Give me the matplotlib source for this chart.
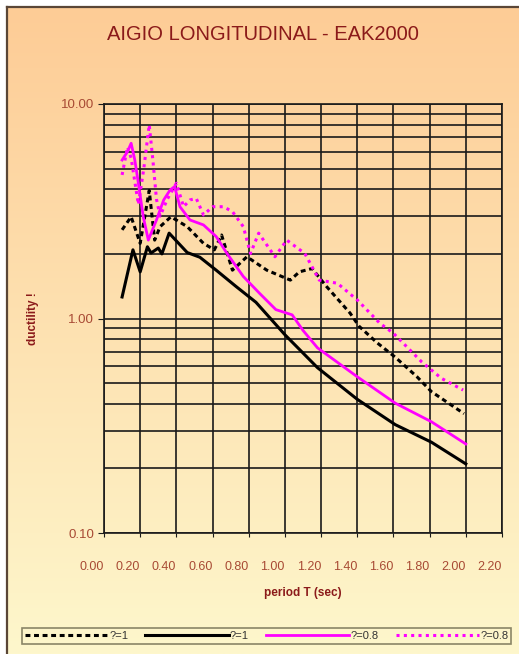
import matplotlib
matplotlib.use("Agg")
import matplotlib.pyplot as plt
import numpy as np
from matplotlib.lines import Line2D
from matplotlib.ticker import FixedLocator, LogLocator, NullFormatter

plt.rcParams['font.family'] = ['Liberation Sans', 'DejaVu Sans']

# period T (sec) and ductility for each curve
t_xi1_dash = [0.10, 0.15, 0.20, 0.25, 0.28, 0.31, 0.37, 0.46, 0.55, 0.61, 0.65, 0.71,
              0.79, 0.90, 1.03, 1.08, 1.15, 1.23, 1.36, 1.41, 1.51, 1.61, 1.73, 1.81, 1.99]
mu_xi1_dash = [2.59, 2.98, 2.24, 3.95, 2.32, 2.68, 2.98, 2.68, 2.24, 2.09, 2.45, 1.68,
               1.94, 1.68, 1.51, 1.65, 1.71, 1.41, 1.06, 0.92, 0.77, 0.66, 0.535, 0.456, 0.36]

t_xi1_solid = [0.10, 0.16, 0.20, 0.24, 0.26, 0.30, 0.32, 0.36, 0.40, 0.46, 0.53, 0.62,
               0.73, 0.84, 0.92, 1.00, 1.18, 1.40, 1.61, 1.81, 2.00]
mu_xi1_solid = [1.26, 2.09, 1.65, 2.16, 2.02, 2.13, 2.00, 2.50, 2.30, 2.03, 1.93, 1.68,
                1.41, 1.19, 1.00, 0.84, 0.59, 0.42, 0.32, 0.265, 0.21]

t_xi08_solid = [0.10, 0.13, 0.15, 0.17, 0.19, 0.217, 0.245, 0.29, 0.33, 0.365, 0.39, 0.42,
                0.475, 0.55, 0.62, 0.68, 0.77, 0.86, 0.95, 1.04, 1.10, 1.18, 1.40, 1.61,
                1.81, 2.00]
mu_xi08_solid = [5.48, 6.0, 6.56, 5.5, 4.27, 2.98, 2.32, 2.88, 3.57, 3.97, 4.12, 3.32,
                 2.88, 2.73, 2.41, 2.01, 1.57, 1.31, 1.10, 1.04, 0.88, 0.73, 0.535, 0.403,
                 0.33, 0.26]

t_xi08_dash = [0.10, 0.13, 0.15, 0.19, 0.22, 0.25, 0.27, 0.29, 0.31, 0.35, 0.40, 0.44,
               0.475, 0.51, 0.55, 0.60, 0.66, 0.71, 0.77, 0.81, 0.855, 0.945, 1.01, 1.11,
               1.19, 1.29, 1.40, 1.525, 1.60, 1.755, 1.865, 1.985]
mu_xi08_dash = [4.67, 6.3, 5.6, 3.4, 5.0, 8.0, 5.5, 3.6, 3.0, 3.6, 4.27, 3.32,
                3.57, 3.63, 3.04, 3.32, 3.32, 3.15, 2.68, 2.01, 2.50, 1.94, 2.32, 2.01,
                1.51, 1.46, 1.22, 0.95, 0.853, 0.629, 0.526, 0.464]

labels = ["?=1", "?=1", "?=0.8", "?=0.8"]
x_ticks = [0.0, 0.2, 0.4, 0.6, 0.8, 1.0, 1.2, 1.4, 1.6, 1.8, 2.0, 2.2]

W, H = 519, 654
fig = plt.figure(figsize=(W / 100, H / 100), dpi=100, facecolor="white")

# gradient background (orange top -> pale yellow bottom)
bg = fig.add_axes([7 / W, 0, 1 - 7 / W, (H - 7) / H], zorder=-10)
top_c = np.array([253, 204, 150]) / 255
bot_c = np.array([254, 247, 204]) / 255
f = np.linspace(0, 1, 256)[:, None]
grad = top_c[None, :] * (1 - f) + bot_c[None, :] * f
bg.imshow(grad[:, None, :], aspect="auto", extent=[0, 1, 0, 1])
bg.set_axis_off()

# frame lines top and left
fig.add_artist(Line2D([7 / W, 1], [(H - 7) / H] * 2, transform=fig.transFigure,
                      color="#5a4636", lw=1.6))
fig.add_artist(Line2D([7 / W] * 2, [0, (H - 7) / H], transform=fig.transFigure,
                      color="#5a4636", lw=1.6))

ax = fig.add_axes([104 / W, (H - 533) / H, 398 / W, 429 / H])
ax.set_facecolor("none")

ax.plot(t_xi1_dash, mu_xi1_dash, color="black", lw=2.2, ls=(0, (1.6, 1.2)),
        label=labels[0])
ax.plot(t_xi1_solid, mu_xi1_solid, color="black", lw=2.2, label=labels[1])
ax.plot(t_xi08_solid, mu_xi08_solid, color="#ff00ff", lw=2.0, label=labels[2])
ax.plot(t_xi08_dash, mu_xi08_dash, color="#ff00ff", lw=2.2, ls=(0, (1.0, 1.4)),
        label=labels[3])

ax.set_yscale("log")
ax.set_ylim(0.1, 10)
ax.set_xlim(0, 2.2)

ax.xaxis.set_major_locator(FixedLocator(x_ticks))
ax.set_xticklabels([f"{v:.2f}" for v in x_ticks])
ax.yaxis.set_major_locator(FixedLocator([0.1, 1, 10]))
ax.set_yticklabels(["0.10", "1.00", "10.00"])
ax.yaxis.set_minor_locator(LogLocator(base=10, subs=np.arange(2, 10)))
ax.yaxis.set_minor_formatter(NullFormatter())

ax.grid(True, which="both", axis="y", color="#1a1a1a", lw=1.2)
ax.grid(True, which="major", axis="x", color="#1a1a1a", lw=1.2)
ax.set_axisbelow(True)
for s in ax.spines.values():
    s.set_color("#1a1a1a")
    s.set_linewidth(1.2)

lab_col = "#a84a34"
ax.tick_params(axis="y", which="major", length=4, color="#1a1a1a", labelsize=9.5,
               labelcolor=lab_col, pad=3)
ax.tick_params(axis="y", which="minor", length=0)
ax.tick_params(axis="x", length=3, color="#1a1a1a", labelsize=9, labelcolor=lab_col,
               pad=17)
for t in ax.get_xticklabels():
    t.set_horizontalalignment("right")

ax.set_xlabel("period T (sec)", color="#8b1a1a", fontsize=8.5, fontweight="bold",
              labelpad=10)
ax.set_ylabel("ductility !", color="#8b1a1a", fontsize=8.5, fontweight="bold",
              labelpad=16)

fig.text(263 / W, 1 - 34 / H, "AIGIO LONGITUDINAL - EAK2000", color="#8b1a1a",
         fontsize=14.5, ha="center", va="center")

leg = fig.legend(loc="center", ncol=4, bbox_to_anchor=(22 / W, 9 / H, 489 / W, 18 / H),
                 mode="expand", fontsize=8, handlelength=7.5, handletextpad=0.1,
                 columnspacing=0.8, borderpad=0.25, fancybox=False, frameon=True,
                 borderaxespad=0)
leg.get_frame().set_edgecolor("#6e6a4e")
leg.get_frame().set_facecolor("none")
leg.get_frame().set_linewidth(1.2)
for t in leg.get_texts():
    t.set_color("#333333")

fig.savefig("out.png", dpi=100)
